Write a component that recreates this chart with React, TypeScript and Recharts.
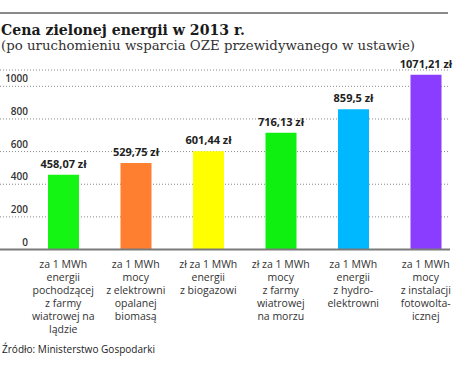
import React from 'react';
import { BarChart, Bar, XAxis, YAxis, CartesianGrid, Cell, LabelList, ReferenceLine } from 'recharts';

const categories = [
  'za 1 MWh\nenergii\npochodzącej\nz farmy\nwiatrowej na\nlądzie',
  'za 1 MWh\nmocy\nz elektrowni\nopalanej\nbiomasą',
  'zł za 1 MWh\nenergii\nz biogazowi',
  'zł za 1 MWh\nmocy\nz farmy\nwiatrowej\nna morzu',
  'za 1 MWh\nenergii\nz hydro-\nelektrowni',
  'za 1 MWh\nmocy\nz instalacji\nfotowolta-\nicznej',
];
const prices = [458.07, 529.75, 601.44, 716.13, 859.5, 1071.21];
const barColors = ['#14f514', '#ff7f30', '#ffff00', '#10f010', '#00b8ff', '#8a3cff'];
const yTicks = [0, 200, 400, 600, 800, 1000];

const title = 'Cena zielonej energii w 2013 r.';
const subtitle = '(po uruchomieniu wsparcia OZE przewidywanego w ustawie)';
const source = 'Źródło: Ministerstwo Gospodarki';

const data = categories.map((c, i) => ({ name: c, value: prices[i] }));

const fmt = (v: number) => `${String(v).replace('.', ',')} zł`;

const XTick = (props: any) => {
  const { x, y, payload } = props;
  const lines = String(payload.value).split('\n');
  return (
    <text x={x} y={y + 18} textAnchor="middle" fontFamily="'Open Sans', sans-serif" fontSize={10.5} fill="#333">
      {lines.map((l, i) => (
        <tspan key={i} x={x} dy={i === 0 ? 0 : 13}>{l}</tspan>
      ))}
    </text>
  );
};

const YTick = (props: any) => {
  const { y, payload } = props;
  return (
    <text x={28} y={y - 4} textAnchor="end" fontFamily="'Open Sans', sans-serif" fontWeight={600} fontSize={10} fill="#333">
      {payload.value}
    </text>
  );
};

const BarLabel = (props: any) => {
  const { x, y, width, value } = props;
  return (
    <text x={x + width / 2} y={y - 7} textAnchor="middle" fontFamily="'Open Sans', sans-serif" fontWeight={700} fontSize={11} fill="#222">
      {fmt(value)}
    </text>
  );
};

const GridLine = (props: any) => (
  <line key={props.key} x1={0} x2={450} y1={props.y1} y2={props.y2} stroke="#888" strokeWidth={1} strokeDasharray="1 2" />
);

const BaseLine = (props: any) => (
  <line x1={0} x2={450} y1={props.y1} y2={props.y2} stroke="#7a7a7a" strokeWidth={2} />
);

export default function App() {
  return (
    <div style={{ position: 'absolute', left: 0, top: 0, width: 458, height: 380, overflow: 'hidden', background: '#fff' }}>
      <BarChart width={470} height={380} data={data} margin={{ top: 70, right: 8, left: 0, bottom: 0 }} barSize={31}>
        <CartesianGrid vertical={false} horizontal={GridLine} />
        <YAxis width={27} domain={[0, 1100]} ticks={yTicks} axisLine={false} tickLine={false} tick={YTick} />
        <XAxis dataKey="name" height={130.5} axisLine={false} tickLine={false} tickSize={0} tickMargin={0} interval={0} tick={XTick} />
        <Bar dataKey="value" isAnimationActive={false}>
          {data.map((d, i) => (
            <Cell key={i} fill={barColors[i]} />
          ))}
          <LabelList dataKey="value" content={BarLabel} />
        </Bar>
        <ReferenceLine y={0} shape={BaseLine} ifOverflow="visible" />
      </BarChart>
      <svg width={458} height={380} style={{ position: 'absolute', left: 0, top: 0, pointerEvents: 'none' }}>
        <line x1={0} x2={448} y1={13} y2={13} stroke="#8a8a8a" strokeWidth={2} />
        <text x={1} y={35} fontFamily="'DejaVu Serif', serif" fontWeight={700} fontSize={14.5} fill="#1a1a1a" textLength={244} lengthAdjust="spacingAndGlyphs">{title}</text>
        <text x={1} y={50} fontFamily="'DejaVu Serif', serif" fontSize={12.5} fill="#333" textLength={414} lengthAdjust="spacingAndGlyphs">{subtitle}</text>
        <text x={2} y={353} fontFamily="'Open Sans', sans-serif" fontSize={10} fill="#222" textLength={153} lengthAdjust="spacingAndGlyphs">{source}</text>
      </svg>
    </div>
  );
}
